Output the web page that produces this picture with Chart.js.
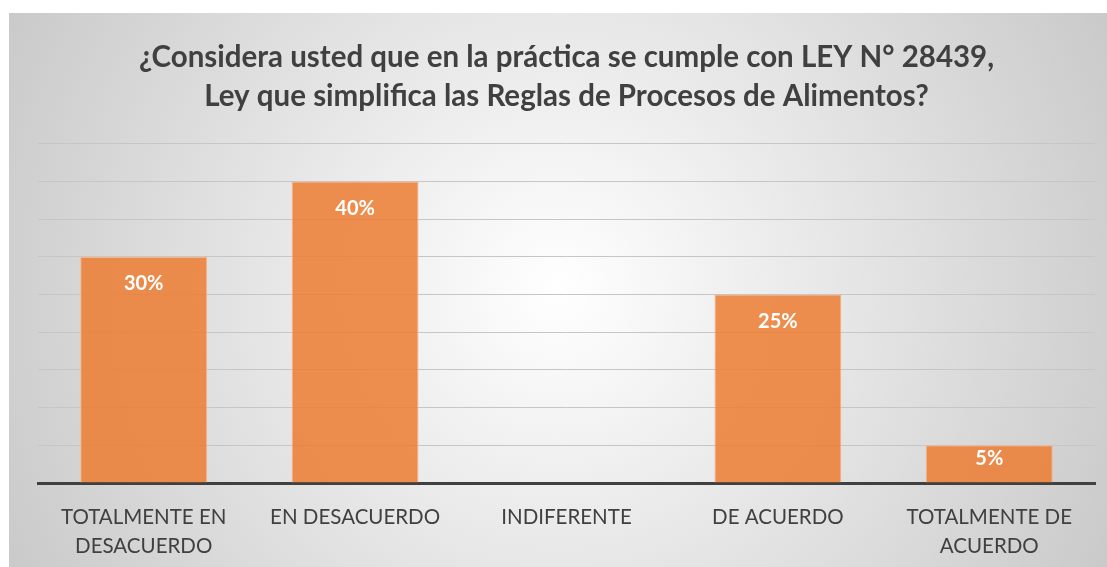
<!DOCTYPE html>
<html>
<head>
<meta charset="utf-8">
<script src="https://cdn.jsdelivr.net/npm/chart.js@4/dist/chart.umd.min.js"></script>
<style>
  html, body { margin: 0; padding: 0; background: #fff; }
  #wrap { position: absolute; left: 9px; top: 13px; width: 1098px; height: 554px; }
</style>
</head>
<body>
<div id="wrap"><canvas id="statsChart" width="1098" height="554"></canvas></div>
<script>
const canvas = document.getElementById("statsChart");
const ctx = canvas.getContext("2d");

const titleLines = [
    "¿Considera usted que en la práctica se cumple con LEY N° 28439,",
    "Ley que simplifica las Reglas de Procesos de Alimentos?"
];
const categories = [
    ["TOTALMENTE EN", "DESACUERDO"],
    "EN DESACUERDO",
    "INDIFERENTE",
    "DE ACUERDO",
    ["TOTALMENTE DE", "ACUERDO"]
];
const values = [30, 40, 0, 25, 5];

const FONT = "Lato, 'Open Sans', sans-serif";

// gray radial background behind the whole chart
const backgroundPlugin = {
    id: "bg",
    beforeDraw(chart) {
        const c = chart.ctx;
        const w = chart.width, h = chart.height;
        const g = c.createRadialGradient(w / 2, h / 2, 0, w / 2, h / 2, w * 0.62);
        g.addColorStop(0, "#ffffff");
        g.addColorStop(1, "#c4c4c4");
        c.save();
        c.fillStyle = g;
        c.fillRect(0, 0, w, h);
        c.restore();
    }
};

// white percent labels inside the bars (near the top, or mid-ish for short bars)
const labelPlugin = {
    id: "barLabels",
    afterDatasetsDraw(chart) {
        const c = chart.ctx;
        const meta = chart.getDatasetMeta(0);
        c.save();
        c.fillStyle = "#ffffff";
        c.font = "bold 20px " + FONT;
        c.textAlign = "center";
        c.textBaseline = "middle";
        meta.data.forEach((bar, i) => {
            if (!values[i]) return;
            const off = Math.min(27, (bar.base - bar.y) / 2 - 5);
            c.fillText(values[i] + "%", bar.x, bar.y + off);
        });
        c.restore();
    }
};

window.myChart = new Chart(ctx, {
    type: "bar",
    data: {
        labels: categories,
        datasets: [{
            data: values,
            backgroundColor: "rgba(237, 125, 49, 0.85)",
            borderColor: "#F6B48A",
            borderWidth: 1,
            borderSkipped: "bottom",
            categoryPercentage: 1,
            barPercentage: 0.6,
        }]
    },
    options: {
        responsive: false,
        animation: false,
        layout: { padding: { left: 29, right: 12, top: 0, bottom: 0 } },
        plugins: {
            legend: { display: false },
            tooltip: { enabled: false },
            title: {
                display: true,
                text: titleLines,
                color: "#404040",
                font: { family: FONT, size: 29.5, weight: "bold", lineHeight: 1.32 },
                padding: { top: 25, bottom: 28 },
            },
        },
        scales: {
            x: {
                grid: { display: false },
                border: { display: true, color: "#404040", width: 3 },
                ticks: {
                    color: "#404040",
                    font: { family: FONT, size: 20.5, lineHeight: 1.41 },
                    padding: 12,
                    maxRotation: 0,
                    autoSkip: false,
                },
                afterFit(scale) { scale.height = 84; },
            },
            y: {
                min: 0,
                max: 45,
                ticks: { display: false, stepSize: 5 },
                border: { display: false },
                grid: { color: "#c6c6c6", lineWidth: 1, drawTicks: false },
            },
        },
    },
    plugins: [backgroundPlugin, labelPlugin],
});
</script>
</body>
</html>
